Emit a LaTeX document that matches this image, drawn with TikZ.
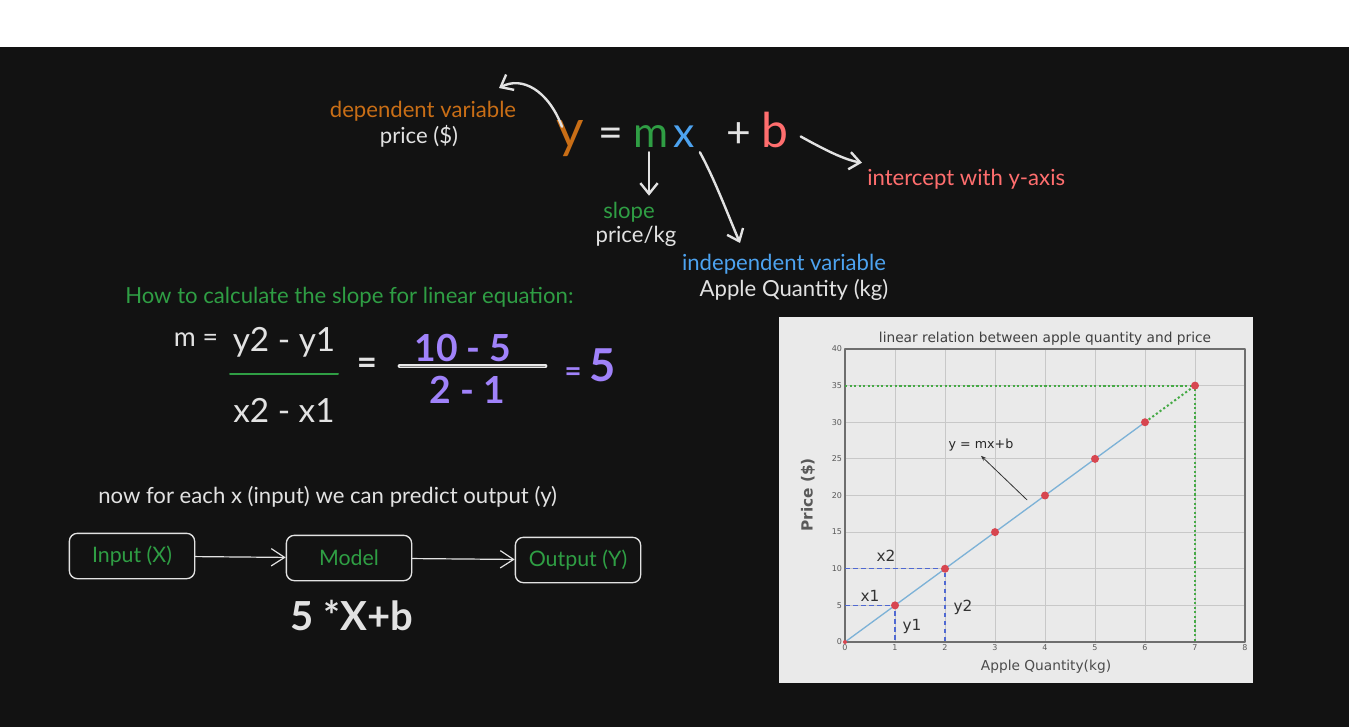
\documentclass[tikz,border=0pt]{standalone}
\usepackage{fontspec}
\setmainfont{Lato}
\newfontfamily\plotfont{DejaVu Sans}
\usetikzlibrary{calc, arrows.meta, positioning}

\definecolor{sfondo}{RGB}{18,18,18}
\definecolor{arancio}{RGB}{201,110,22}
\definecolor{verde}{RGB}{47,158,68}
\definecolor{azzurro}{RGB}{77,163,240}
\definecolor{rosa}{RGB}{255,110,110}
\definecolor{viola}{RGB}{160,130,250}
\definecolor{gesso}{RGB}{226,226,226}
\definecolor{carta}{RGB}{234,234,234}
\definecolor{griglia}{RGB}{200,200,200}
\definecolor{cornice}{RGB}{110,110,110}
\definecolor{puntorosso}{RGB}{215,70,80}
\definecolor{lineablu}{RGB}{125,178,215}
\definecolor{verdepunti}{RGB}{70,170,70}
\definecolor{blutratti}{RGB}{80,105,210}

\tikzset{
  testo/.style={text=gesso, font=\fontsize{16.6}{19}\selectfont, inner sep=0pt},
  simbolo/.style={anchor=base, inner sep=0pt, font=\fontsize{32}{38}\selectfont},
  formula/.style={text=gesso, inner sep=0pt, font=\fontsize{25}{29}\selectfont},
  calcolo/.style={text=viola, inner sep=0pt, font=\bfseries\fontsize{28}{32}\selectfont},
  freccia/.style={draw=gesso, line width=1.8pt,
    -{Straight Barb[length=8pt,width=13pt,line width=1.8pt]}},
  frecciasottile/.style={draw=gesso, line width=0.9pt,
    -{Straight Barb[length=10pt,width=13pt,line width=0.9pt]}},
  blocco/.style={draw=gesso, line width=1pt, rounded corners=6pt, minimum width=94pt,
    minimum height=34pt, text=verde, font=\fontsize{16}{19}\selectfont},
  tacca/.style={text=black!65, font=\plotfont\fontsize{6}{7}\selectfont, inner sep=2pt},
  etichetta/.style={text=black!80, font=\plotfont\fontsize{11.5}{13}\selectfont, inner sep=0pt},
  punto/.style={fill=puntorosso, draw=none},
  puntinato/.style={draw=verdepunti, line width=1.5pt, dash pattern=on 1.6pt off 1.8pt, line cap=butt},
  tratteggio/.style={draw=blutratti, line width=1.1pt, dash pattern=on 3.5pt off 2.5pt, line cap=butt}
}

\begin{document}
\begin{tikzpicture}[x=0.75pt, y=-0.75pt, line cap=round, line join=round]

% sfondo
\fill[white] (0,0) rectangle (1349,727);
\fill[sfondo] (0,47) rectangle (1349,727);

% equazione y = mx + b
\node[simbolo, text=arancio, font=\fontsize{40}{44}\selectfont] (yvar) at (570,148) {y};
\node[simbolo, text=gesso] (uguale) at (611,148) {=};
\node[simbolo, text=verde] (mvar) at (651,148) {m};
\node[simbolo, text=azzurro] (xvar) at (684,148) {x};
\node[simbolo, text=gesso] (piu) at (739,148) {+};
\node[simbolo, text=rosa, font=\fontsize{36}{40}\selectfont] (bvar) at (775,148) {b};

% etichette
\node[testo, text=arancio] (dipendente) at (423,111) {dependent variable};
\node[testo] (prezzo) at (419,136) {price (\$)};
\node[testo, text=verde] (pendenza) at (629,212) {slope};
\node[testo] (prezzokg) at (636,236) {price/kg};
\node[testo, text=azzurro] (indipendente) at (784,264) {independent variable};
\node[testo] (quantita) at (794,290) {Apple Quantity (kg)};
\node[testo, text=rosa, anchor=west] (intercetta) at (867,179) {intercept with y-axis};

% frecce
\coordinate (punta y) at (499,88);
\coordinate (punta x) at (740,243);
\draw[freccia] ($(yvar.north)+(-8,6)$) .. controls (548,90) and (522,76) .. (punta y);
\draw[freccia] ($(mvar.south)+(-2,4)$) -- ($(mvar.south |- pendenza.north)+(-2,-6)$);
\draw[freccia] ($(xvar.south east)+(5,4)$) .. controls (715,180) and (728,215) .. (punta x);
\draw[freccia] ($(bvar.east)+(12,6)$) .. controls (825,150) and (845,160) .. ($(intercetta.north west)+(-5,-6)$);

% pendenza
\node[testo, text=verde, anchor=west] (domanda) at (125,297) {How to calculate the slope for linear equation:};
\node[formula, font=\fontsize{20}{24}\selectfont] (mug) at (196,340) {m =};
\node[formula] (num) at (284,342) {y2 - y1};
\draw[verde, line width=1.5pt] (230,374) -- (338,374);
\node[formula] (den) at (284,410) {x2 - x1};
\node[formula, font=\bfseries\fontsize{26}{30}\selectfont] (uguale2) at (367,366) {=};
\node[calcolo] (num2) at (463,348) {10 - 5};
\draw[gesso!80, line width=1.6pt, double=gray, double distance=0.5pt] (400,366) -- (545,366);
\node[calcolo] (den2) at (467,390) {2 - 1};
\node[calcolo, font=\bfseries\fontsize{34}{38}\selectfont] (risultato) at (590,365) {{\fontsize{22}{26}\selectfont =}\,5};

% modello
\node[testo, anchor=west] (previsione) at (98,497) {now for each x (input) we can predict output (y)};
\node[blocco] (ingresso) at (132,556) {Input (X)};
\node[blocco] (modello) at (349,558) {Model};
\node[blocco] (uscita) at (578,560) {Output (Y)};
\draw[frecciasottile] (ingresso) -- (modello);
\draw[frecciasottile] (modello) -- (uscita);
\node[text=gesso, font=\bfseries\fontsize{30}{34}\selectfont, inner sep=0pt] (regola) at (352,615) {5 *X+b};

% grafico
\fill[carta] (779,317) rectangle (1253,683);
\begin{scope}[shift={(633.75pt,-481.5pt)}, x=37.5pt, y=5.494pt]
  \foreach \i in {1,...,7}
    \draw[griglia, line width=0.6pt] (\i,0) -- (\i,40);
  \foreach \j in {5,10,...,35}
    \draw[griglia, line width=0.6pt] (0,\j) -- (8,\j);
  \draw[cornice, line width=0.8pt] (0,0) rectangle (8,40);
  \foreach \i in {0,...,8}
    \node[tacca, below] at (\i,0) {\i};
  \foreach \j in {0,5,...,40}
    \node[tacca, left] at (0,\j) {\j};
  \node[text=black!75, font=\plotfont\fontsize{10.3}{12}\selectfont] (titolo) at (4.0,41.4) {linear relation between apple quantity and price};
  \node[text=black!70, font=\plotfont\fontsize{10.3}{12}\selectfont] (asseX) at (4.02,-3.4) {Apple Quantity(kg)};
  \node[text=black!65, font=\plotfont\bfseries\fontsize{11.5}{13}\selectfont, rotate=90] (asseY) at (-0.74,20.07) {Price (\$)};
  % tratteggi
  \draw[puntinato] (0,35) -- (7,35) -- (7,0);
  \draw[puntinato] (6,30) -- (7,35);
  \draw[tratteggio] (0,5) -| (1,0);
  \draw[tratteggio] (0,10) -| (2,0);
  \draw[lineablu, line width=1pt] (0,0) -- (6,30);
  \foreach \i in {0,...,7}
    \coordinate (p\i) at (\i,5*\i);
  \fill[puntorosso] (p0) circle (1.5pt);
  \foreach \i in {1,...,7}
    \fill[punto] (p\i) circle (3pt);
  \node[etichetta] (ex1) at (0.5,6.3) {x1};
  \node[etichetta] (ex2) at (0.82,11.7) {x2};
  \node[etichetta] (ey1) at (1.34,2.05) {y1};
  \node[etichetta] (ey2) at (2.36,4.78) {y2};
  \node[text=black!85, font=\plotfont\fontsize{9.5}{11}\selectfont] (retta) at (2.72,26.9) {y = mx+b};
  \coordinate (coda) at (3.64,19.4);
  \draw[black!80, line width=0.6pt, -{Stealth[length=4pt,width=3pt]}] (coda) -- (retta.south);
\end{scope}
\end{tikzpicture}
\end{document}
